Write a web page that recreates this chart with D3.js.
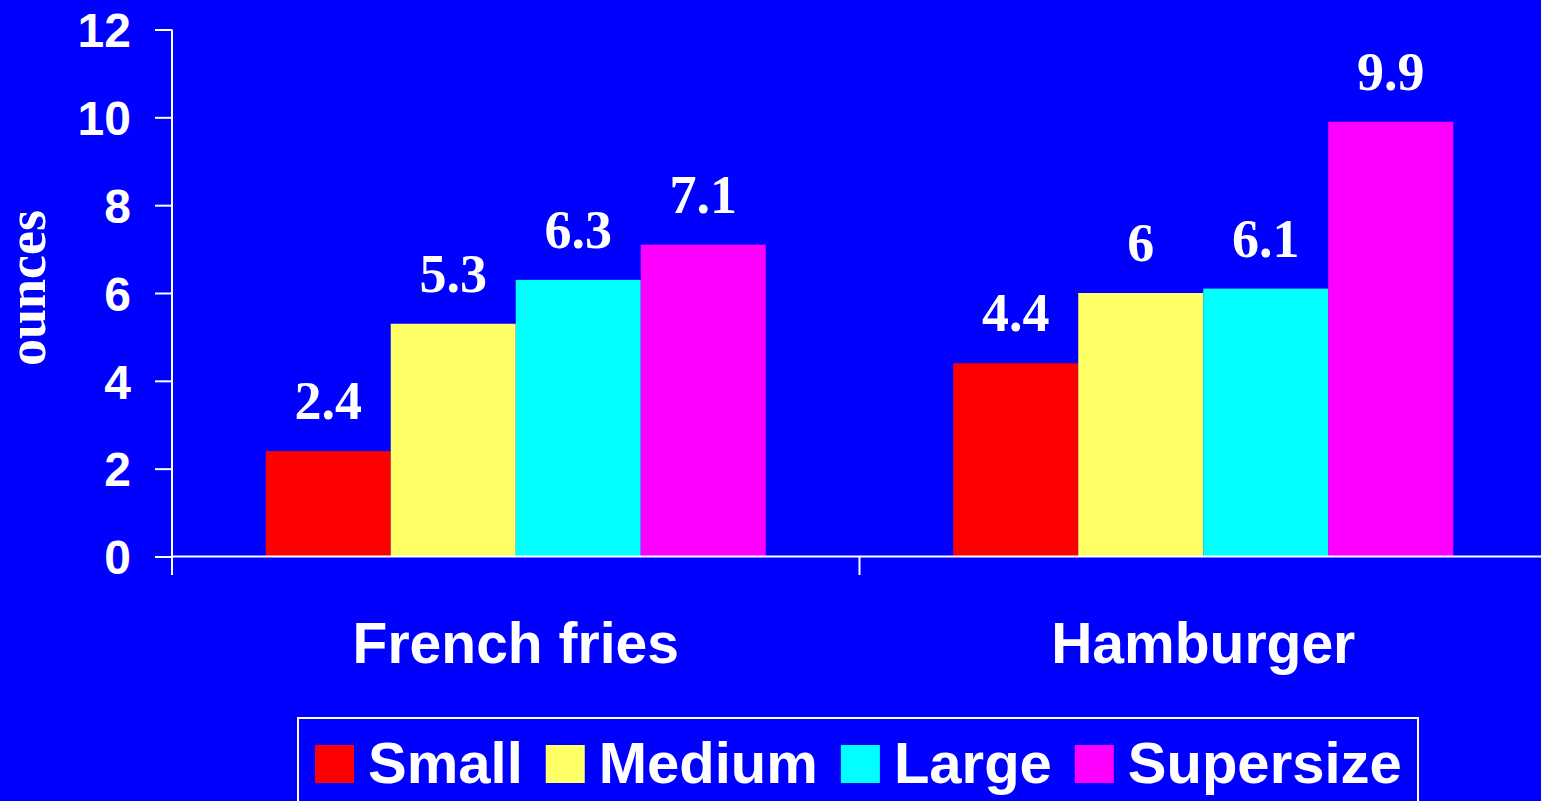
<!DOCTYPE html>
<html>
<head>
<meta charset="utf-8">
<script src="https://cdn.jsdelivr.net/npm/d3@7"></script>
<style>
  html, body { margin: 0; padding: 0; background: #0000ff; overflow: hidden; }
  svg { display: block; }
</style>
</head>
<body>
<div id="chart"></div>
<script>
// data
const categories = ['French fries', 'Hamburger'];
const sizes = ['Small', 'Medium', 'Large', 'Supersize'];
const small = [2.4, 4.4];
const medium = [5.3, 6];
const large = [6.3, 6.1];
const supersize = [7.1, 9.9];
const yTicks = [0, 2, 4, 6, 8, 10, 12];
const colors = ['#ff0000', '#ffff66', '#00ffff', '#ff00ff'];

const seriesValues = [small, medium, large, supersize];

const width = 1541, height = 801;
const svg = d3.select('#chart').append('svg')
    .attr('width', width)
    .attr('height', height);

svg.append('rect').attr('width', width).attr('height', height).attr('fill', '#0000ff');

const axisX = 172;
const y = d3.scaleLinear().domain([0, 12]).range([556.5, 29.5]);

const x0 = d3.scaleBand().domain(categories).range([axisX, 1547]);
const x1 = d3.scaleBand().domain(sizes).range([0, x0.bandwidth()])
    .paddingInner(0).paddingOuter(0.75);

// bars
const groups = svg.selectAll('g.cat')
    .data(categories)
    .join('g')
    .attr('class', 'cat')
    .attr('transform', d => `translate(${x0(d)},0)`);

groups.each(function(cat, ci) {
    const g = d3.select(this);
    const rows = sizes.map((s, si) => ({ s, v: seriesValues[si][ci], c: colors[si] }));
    g.selectAll('rect')
        .data(rows)
        .join('rect')
        .attr('x', d => x1(d.s))
        .attr('width', x1.bandwidth())
        .attr('y', d => y(d.v))
        .attr('height', d => y(0) - y(d.v))
        .attr('fill', d => d.c);
    g.selectAll('text.val')
        .data(rows)
        .join('text')
        .attr('class', 'val')
        .attr('x', d => x1(d.s) + x1.bandwidth() / 2)
        .attr('y', d => y(d.v) - 32)
        .attr('text-anchor', 'middle')
        .attr('fill', '#fff')
        .style('font-family', '"Liberation Serif", "Times New Roman", serif')
        .style('font-weight', 'bold')
        .style('font-size', '54px')
        .text(d => String(d.v));
});

// y axis
const yAxis = svg.append('g')
    .attr('transform', `translate(${axisX},0)`)
    .call(d3.axisLeft(y).tickValues(yTicks).tickSize(17).tickPadding(24).tickFormat(d3.format('d')));
yAxis.select('.domain').remove();
yAxis.selectAll('.tick line').attr('stroke', '#fff').attr('stroke-width', 2);
yAxis.selectAll('.tick text')
    .attr('fill', '#fff')
    .attr('dy', '0.36em')
    .style('font-family', '"Liberation Sans", Arial, sans-serif')
    .style('font-weight', 'bold')
    .style('font-size', '48px');

// axis lines
svg.append('line')
    .attr('x1', axisX).attr('x2', axisX)
    .attr('y1', y(12)).attr('y2', 575)
    .attr('stroke', '#fff').attr('stroke-width', 2);
svg.append('line')
    .attr('x1', axisX).attr('x2', width)
    .attr('y1', y(0)).attr('y2', y(0))
    .attr('stroke', '#fff').attr('stroke-width', 2);
svg.append('line')
    .attr('x1', x0(categories[1])).attr('x2', x0(categories[1]))
    .attr('y1', y(0)).attr('y2', 575)
    .attr('stroke', '#fff').attr('stroke-width', 2);

// category labels
svg.selectAll('text.cat')
    .data(categories)
    .join('text')
    .attr('class', 'cat')
    .attr('x', d => x0(d) + x0.bandwidth() / 2)
    .attr('y', 663)
    .attr('text-anchor', 'middle')
    .attr('fill', '#fff')
    .style('font-family', '"Liberation Sans", Arial, sans-serif')
    .style('font-weight', 'bold')
    .style('font-size', '57px')
    .text(d => d);

// y title
svg.append('text')
    .attr('transform', 'translate(45,288) rotate(-90)')
    .attr('text-anchor', 'middle')
    .attr('fill', '#fff')
    .style('font-family', '"Liberation Serif", "Times New Roman", serif')
    .style('font-weight', 'bold')
    .style('font-size', '54px')
    .text('ounces');

// legend
svg.append('rect')
    .attr('x', 298).attr('y', 718)
    .attr('width', 1120).attr('height', 100)
    .attr('fill', 'none').attr('stroke', '#fff').attr('stroke-width', 2);

let lx = 315;
sizes.forEach((s, i) => {
    svg.append('rect')
        .attr('x', lx).attr('y', 745)
        .attr('width', 39).attr('height', 38)
        .attr('fill', colors[i]);
    const t = svg.append('text')
        .attr('x', lx + 53).attr('y', 783)
        .attr('fill', '#fff')
        .style('font-family', '"Liberation Sans", Arial, sans-serif')
        .style('font-weight', 'bold')
        .style('font-size', '58px')
        .text(s);
    lx = lx + 53 + t.node().getComputedTextLength() + 23;
});
</script>
</body>
</html>
